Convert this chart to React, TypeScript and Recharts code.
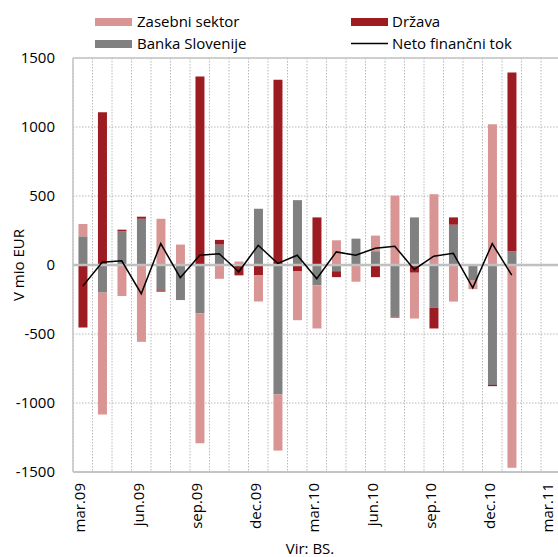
import React from "react";
import {
  ComposedChart,
  Bar,
  Line,
  XAxis,
  YAxis,
  CartesianGrid,
  ReferenceLine,
} from "recharts";

const MONTHS = [
  "mar.09", "apr.09", "maj.09", "jun.09", "jul.09", "avg.09", "sep.09",
  "okt.09", "nov.09", "dec.09", "jan.10", "feb.10", "mar.10", "apr.10",
  "maj.10", "jun.10", "jul.10", "avg.10", "sep.10", "okt.10", "nov.10",
  "dec.10", "jan.11", "feb.11", "mar.11",
];

// Banka Slovenije (grey)
const BANKA_SLOVENIJE = [
  208, -200, 244, 335, -184, -254, -350, 148, 0, 407, -939, 470, -148,
  -45, 191, 100, -374, 345, -309, 292, -110, -869, 100, null, null,
];

// Država (dark red)
const DRZAVA = [
  -453, 1107, 12, 15, -9, 0, 1366, 34, -75, -73, 1343, -47, 345,
  -43, 0, -88, -7, -56, -151, 53, -3, -9, 1295, null, null,
];

// Zasebni sektor (pink)
const ZASEBNI_SEKTOR = [
  89, -883, -225, -557, 335, 148, -942, -100, 25, -192, -406, -353, -312,
  179, -121, 113, 503, -332, 513, -265, -62, 1020, -1470, null, null,
];

// Neto finančni tok (line)
const NETO_TOK = [
  -153, 20, 30, -208, 155, -92, 71, 81, -49, 143, 11, 71, -100,
  95, 71, 121, 136, -32, 64, 85, -165, 155, -74, null, null,
];

const Y_TICKS = [-1500, -1000, -500, 0, 500, 1000, 1500];

const data = MONTHS.map((month, i) => ({
  month,
  banka: BANKA_SLOVENIJE[i],
  drzava: DRZAVA[i],
  zasebni: ZASEBNI_SEKTOR[i],
  neto: NETO_TOK[i],
}));

const FONT = "'Open Sans', sans-serif";
const PINK = "#d99594";
const RED = "#9c1c22";
const GREY = "#808080";
const GRID = "#b8b8b8";

// rotated month labels, centred on the line box like the original
const XTick = ({ x, y, payload }: any) => (
  <text
    transform={`translate(${x + 2.5},${y + 11}) rotate(-90)`}
    textAnchor="end"
    fontFamily={FONT}
    fontSize={15}
    fill="#000"
  >
    {payload.value}
  </text>
);

const CHART_W = 570;
const CHART_H = 557;
const MARGIN = { top: 58, right: 9.5, bottom: 0, left: 0 };
const Y_AXIS_W = 73;

export default function App() {
  const verticalLines = ({ offset }: any) => {
    const left = offset?.left ?? MARGIN.left + Y_AXIS_W;
    const width = offset?.width ?? CHART_W - MARGIN.right - left;
    return Array.from(
      { length: MONTHS.length + 1 },
      (_, i) => left + (i * width) / MONTHS.length
    );
  };

  return (
    <div
      style={{
        position: "absolute",
        left: 0,
        top: 0,
        width: 558,
        height: 557,
        overflow: "hidden",
        background: "#fff",
      }}
    >
      <ComposedChart
        width={CHART_W}
        height={CHART_H}
        data={data}
        margin={MARGIN}
        stackOffset="sign"
        barCategoryGap="28%"
      >
        <CartesianGrid
          stroke={GRID}
          strokeDasharray="1.5 1.5"
          verticalCoordinatesGenerator={verticalLines}
        />
        <XAxis
          dataKey="month"
          interval={2}
          axisLine={false}
          tickLine={false}
          tickSize={0}
          tickMargin={0}
          height={85}
          tick={<XTick />}
        />
        <YAxis
          domain={[-1500, 1500]}
          ticks={Y_TICKS}
          width={Y_AXIS_W}
          axisLine={{ stroke: "#c4c4c4", strokeWidth: 1.5 }}
          tickLine={false}
          tickSize={0}
          tickMargin={18}
          tick={{ fill: "#000", fontSize: 15, fontFamily: FONT }}
        />
        <Bar dataKey="banka" stackId="a" fill={GREY} isAnimationActive={false} />
        <Bar dataKey="drzava" stackId="a" fill={RED} isAnimationActive={false} />
        <Bar dataKey="zasebni" stackId="a" fill={PINK} isAnimationActive={false} />
        <ReferenceLine y={1500} stroke="#c4c4c4" strokeWidth={1.5} />
        <ReferenceLine y={-1500} stroke="#c4c4c4" strokeWidth={2} />
        <ReferenceLine y={0} stroke="#c0c0c0" strokeWidth={2.5} />
        <Line
          type="linear"
          dataKey="neto"
          stroke="#000"
          strokeWidth={1.5}
          dot={false}
          isAnimationActive={false}
        />
      </ComposedChart>

      <svg
        width={558}
        height={557}
        style={{ position: "absolute", left: 0, top: 0, pointerEvents: "none" }}
        fontFamily={FONT}
        fontSize={15}
      >
        <rect x={95} y={18} width={37} height={8} fill={PINK} />
        <text x={137} y={27}>Zasebni sektor</text>
        <rect x={351} y={18} width={37} height={8} fill={RED} />
        <text x={392} y={27}>Država</text>
        <rect x={95} y={40} width={37} height={8} fill={GREY} />
        <text x={137} y={49}>Banka Slovenije</text>
        <line x1={351} y1={43.5} x2={388} y2={43.5} stroke="#000" strokeWidth={1.5} />
        <text x={392} y={49}>Neto finančni tok</text>
        <text transform="translate(24,265) rotate(-90)" textAnchor="middle">
          V mio EUR
        </text>
        <text x={310} y={554} textAnchor="middle">
          Vir: BS.
        </text>
      </svg>
    </div>
  );
}
